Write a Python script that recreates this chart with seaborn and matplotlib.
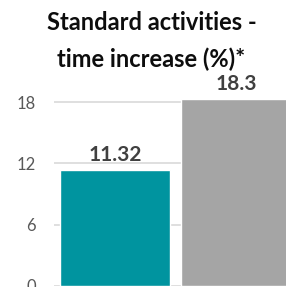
import matplotlib
matplotlib.use('Agg')
import matplotlib.pyplot as plt
import seaborn as sns
import pandas as pd

# Chart data
categories = ['Group A', 'Group B']
values = [11.32, 18.3]
value_labels = ['11.32', '18.3']
bar_colors = ['#00949F', '#A5A5A5']
y_ticks = [0, 6, 12, 18]
title = 'Standard activities -\ntime increase (%)*'

sns.set_style('white')
plt.rcParams['font.family'] = ['Lato', 'DejaVu Sans']

df = pd.DataFrame({'category': categories, 'value': values})

fig = plt.figure(figsize=(2.86, 2.87), dpi=100)
ax = fig.add_axes([0.189, 0.0035, 0.811, 0.6515])

sns.barplot(data=df, x='category', y='value', hue='category',
            palette=bar_colors, width=0.91, saturation=1,
            legend=False, ax=ax, zorder=3)

ax.set_xlim(-0.5, 1.406)
ax.set_ylim(0, 18.3)
ax.set_yticks(y_ticks)
ax.yaxis.grid(True, color='#D9D9D9', linewidth=1.2, zorder=0)
ax.set_axisbelow(True)
for s in ax.spines.values():
    s.set_visible(False)
ax.set_xticks([])
ax.set_xlabel('')
ax.set_ylabel('')
ax.tick_params(axis='y', length=0, pad=13, labelsize=12, labelcolor='#595959')
for lbl in ax.get_yticklabels():
    lbl.set_clip_on(False)

# value labels above the bars
for i, (v, t) in enumerate(zip(values, value_labels)):
    ax.text(i, v + 0.5, t, ha='center', va='bottom', fontsize=15,
            fontweight='bold', color='#404040', clip_on=False)

fig.text(0.53, 0.857, title, ha='center', va='center', fontsize=17,
         fontweight='bold', color='#0D0D0D', linespacing=1.65)

fig.savefig('out.png', dpi=100)
